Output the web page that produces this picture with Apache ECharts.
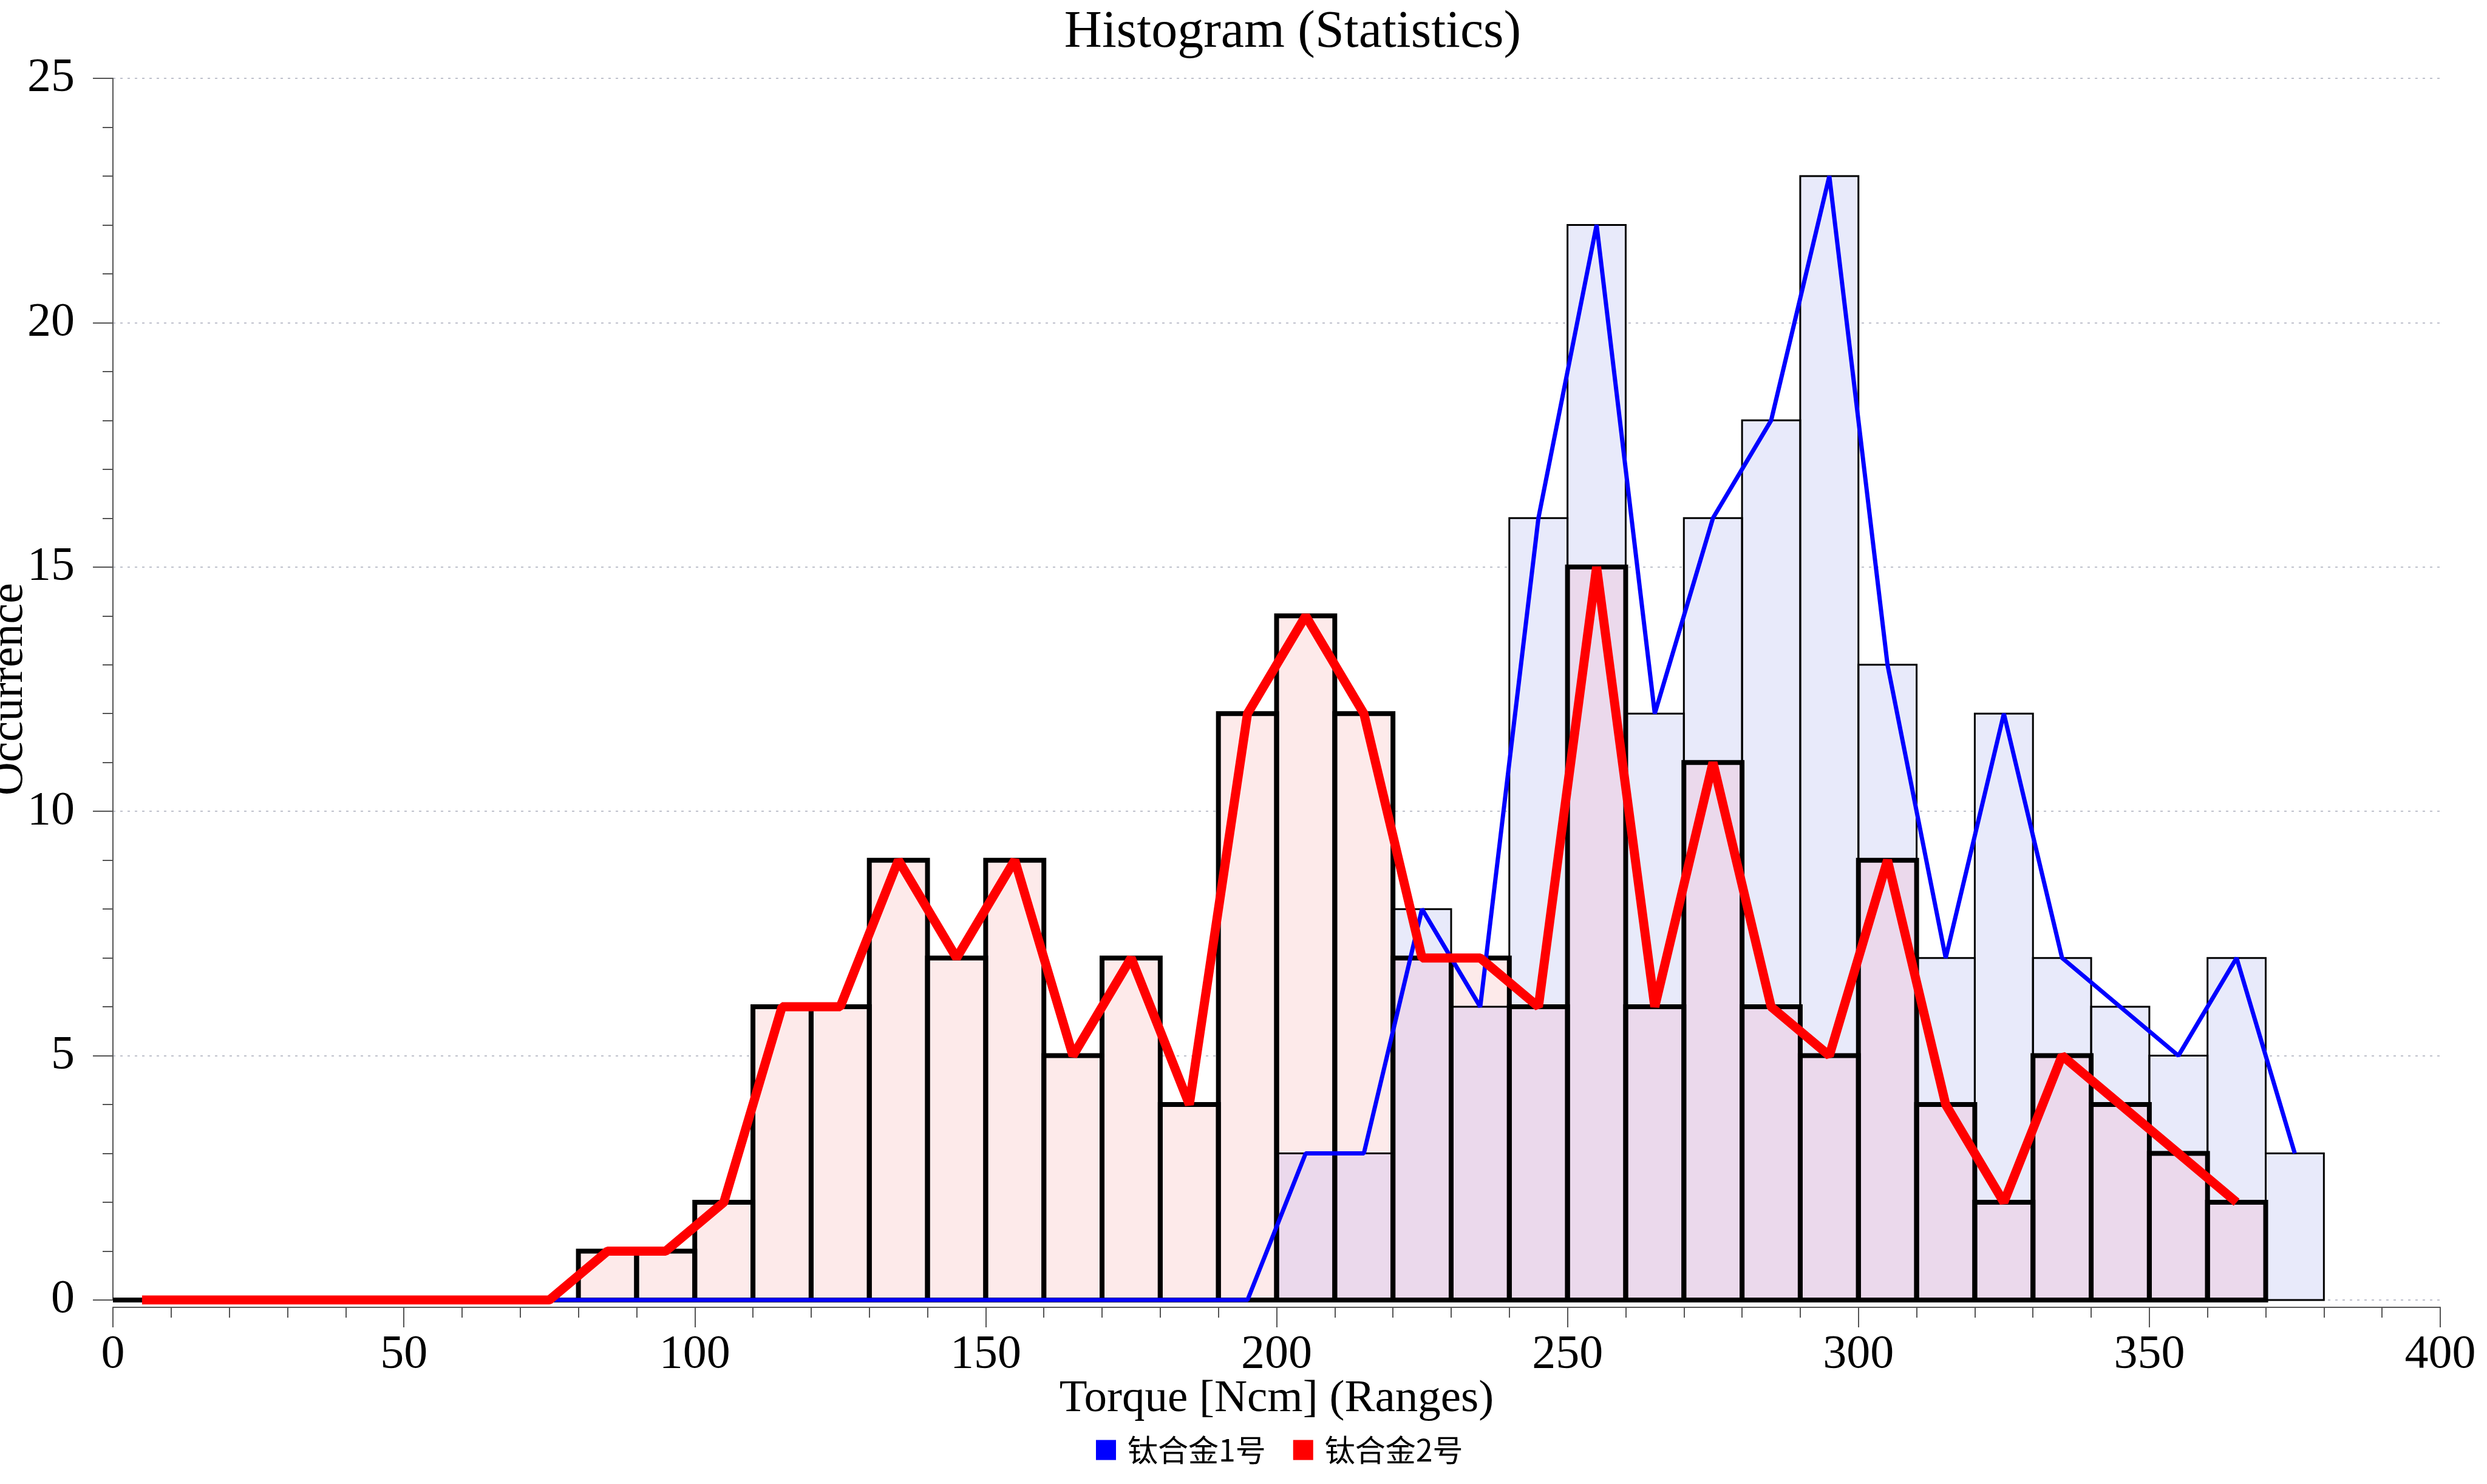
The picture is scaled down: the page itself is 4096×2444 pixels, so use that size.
<!DOCTYPE html>
<html>
<head>
<meta charset="utf-8">
<script src="https://cdn.jsdelivr.net/npm/echarts@6/dist/echarts.min.js"></script>
<style>
html,body{margin:0;padding:0;background:#fff;}
#chart{width:4096px;height:2444px;}
</style>
</head>
<body>
<div id="chart"></div>
<script>
// ---- data ----
const binStarts = [0,10,20,30,40,50,60,70,80,90,100,110,120,130,140,150,160,170,180,190,
                   200,210,220,230,240,250,260,270,280,290,300,310,320,330,340,350,360,370];
const binWidth = 10;
const alloy1Name = '钛合金1号';
const alloy2Name = '钛合金2号';
const alloy1Counts = [0,0,0,0,0,0,0,0,0,0,0,0,0,0,0,0,0,0,0,0,
                      3,3,8,6,16,22,12,16,18,23,13,7,12,7,6,5,7,3];
const alloy2Counts = [0,0,0,0,0,0,0,0,1,1,2,6,6,9,7,9,5,7,4,12,
                      14,12,7,7,6,15,6,11,6,5,9,4,2,5,4,3,2];
const xTicks = {min:0, max:400, interval:50};
const yTicks = {min:0, max:25, interval:5};

// ---- build ----
function barData(counts){ return counts.map((v,i)=>[binStarts[i], v]); }
function lineData(counts){ return counts.map((v,i)=>[binStarts[i] + binWidth/2, v]); }

const FONT = '"Liberation Serif", "DejaVu Serif", serif';
const COL_BLUE_FILL = '#e8eafa';
const COL_RED_FILL = '#fdeaea';
const COL_OVERLAP = '#ebd9ec';

function rectShape(api, x0, v){
  const p0 = api.coord([x0, 0]);
  const p1 = api.coord([x0 + binWidth, v]);
  return {x: p0[0], y: p1[1], width: p1[0]-p0[0], height: p0[1]-p1[1]};
}

const chart = echarts.init(document.getElementById('chart'), null, {renderer:'canvas'});
const option = {
  animation: false,
  backgroundColor: '#fff',
  title: {
    text: 'Histogram (Statistics)',
    left: 2124, textAlign: 'center', top: 6,
    textStyle: {fontFamily: FONT, fontSize: 86, fontWeight: 'normal', color: '#000'}
  },
  legend: {
    bottom: 26, left: 1800,
    itemWidth: 33, itemHeight: 33, itemGap: 45,
    icon: 'rect',
    textStyle: {fontFamily: '"Noto Sans CJK SC", sans-serif', fontSize: 50, color: '#000', padding:[0,0,0,14]},
    data: [
      {name: alloy1Name, itemStyle: {color: '#0000ff'}},
      {name: alloy2Name, itemStyle: {color: '#ff0000'}}
    ]
  },
  grid: {left: 186, right: 77, top: 129, bottom: 303, containLabel: false, outerBoundsMode: 'none'},
  xAxis: {
    type: 'value', min: xTicks.min, max: xTicks.max, interval: xTicks.interval,
    offset: 12,
    name: 'Torque [Ncm] (Ranges)', nameLocation: 'middle', nameGap: 114,
    nameMoveOverlap: false,
    nameTextStyle: {fontFamily: FONT, fontSize: 75, color: '#000'},
    axisLine: {show: true, onZero: false, lineStyle: {color: '#555', width: 2}},
    axisTick: {show: true, length: 33, lineStyle: {color: '#555', width: 2}},
    minorTick: {show: true, splitNumber: 5, length: 17, lineStyle: {color: '#555', width: 2}},
    axisLabel: {fontFamily: FONT, fontSize: 78, color: '#000', margin: 40},
    splitLine: {show: false}
  },
  yAxis: {
    type: 'value', min: yTicks.min, max: yTicks.max, interval: yTicks.interval,
    offset: 13,
    name: 'Occurrence', nameLocation: 'middle', nameGap: 119, nameRotate: 90,
    nameMoveOverlap: false,
    nameTextStyle: {fontFamily: FONT, fontSize: 76, color: '#000'},
    axisLine: {show: true, lineStyle: {color: '#555', width: 2}},
    axisTick: {show: true, length: 33, lineStyle: {color: '#555', width: 2}},
    minorTick: {show: true, splitNumber: 5, length: 17, lineStyle: {color: '#555', width: 2}},
    axisLabel: {fontFamily: FONT, fontSize: 78, color: '#000', margin: 50},
    splitLine: {show: true, lineStyle: {color: '#bfc1cc', width: 2, type: [4, 8]}}
  },
  series: [
    { // blue bar fills
      type: 'custom', name: alloy1Name, silent: true, clip: false,
      data: barData(alloy1Counts),
      renderItem: function(params, api){
        return {type:'rect', shape: rectShape(api, api.value(0), api.value(1)),
                style:{fill: COL_BLUE_FILL, stroke: null}};
      }
    },
    { // red bar fills (with overlap tint)
      type: 'custom', name: alloy2Name, silent: true, clip: false,
      data: barData(alloy2Counts),
      renderItem: function(params, api){
        const i = params.dataIndex;
        const r = api.value(1);
        const b = alloy1Counts[i] || 0;
        return {type:'group', children:[
          {type:'rect', shape: rectShape(api, api.value(0), r), style:{fill: COL_RED_FILL}},
          {type:'rect', shape: rectShape(api, api.value(0), Math.min(r, b)), style:{fill: COL_OVERLAP}}
        ]};
      }
    },
    { // red bar outlines
      type: 'custom', name: alloy2Name, silent: true, clip: false,
      data: barData(alloy2Counts),
      renderItem: function(params, api){
        return {type:'rect', shape: rectShape(api, api.value(0), api.value(1)),
                style:{fill: null, stroke: '#000', lineWidth: 8}};
      }
    },
    { // blue bar outlines
      type: 'custom', name: alloy1Name, silent: true, clip: false,
      data: barData(alloy1Counts),
      renderItem: function(params, api){
        return {type:'rect', shape: rectShape(api, api.value(0), api.value(1)),
                style:{fill: null, stroke: '#000', lineWidth: 3}};
      }
    },
    {
      type: 'line', name: alloy1Name, data: lineData(alloy1Counts),
      showSymbol: false, symbol: 'none', color: '#0000ff',
      lineStyle: {color: '#0000ff', width: 7}
    },
    {
      type: 'line', name: alloy2Name, data: lineData(alloy2Counts),
      showSymbol: false, symbol: 'none', color: '#ff0000',
      lineStyle: {color: '#ff0000', width: 15}
    }
  ]
};
chart.setOption(option);
</script>
</body>
</html>
